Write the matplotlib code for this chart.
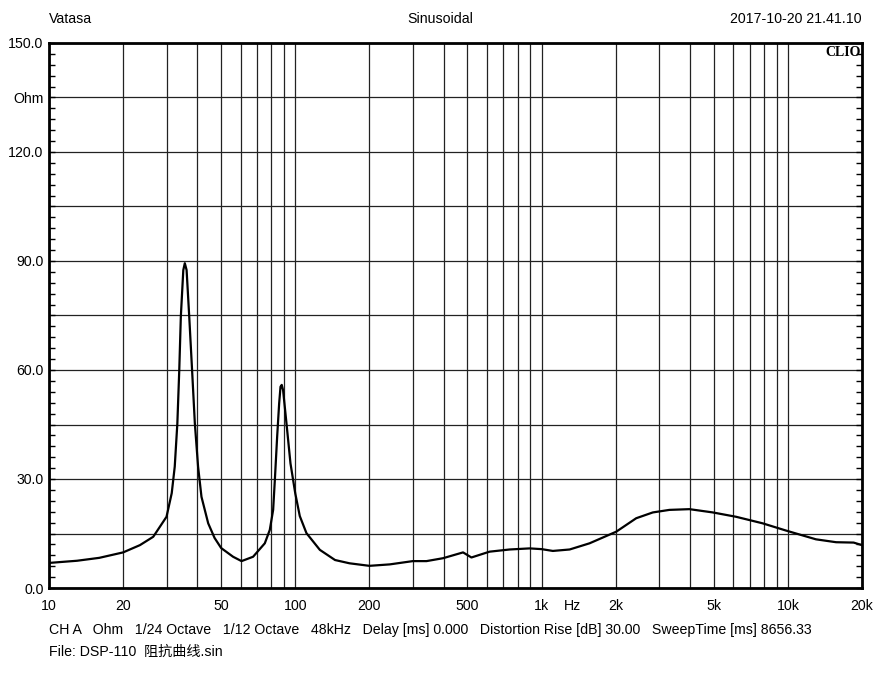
import numpy as np
import matplotlib
matplotlib.use("Agg")
import matplotlib.pyplot as plt
from matplotlib.ticker import FixedLocator, FuncFormatter, MultipleLocator

# impedance curve
freq = [10, 13, 16, 20, 23.4, 26.5, 30.0, 31.5, 32.4, 33.2, 33.8, 34.3, 35.1, 35.6,
        36.2, 37.1, 38.1, 39.1, 40.3, 41.6, 44.3, 47, 50, 55.9, 60.5, 67.4, 75.2, 78.8,
        81.3, 82.6, 84.4, 86.0, 87.1, 88.1, 89.2, 92.1, 95.6, 100, 104.3, 111,
        125.8, 145, 166, 200, 242, 300, 341, 398, 480, 519,
        615, 742, 894, 1000, 1111, 1300, 1566, 2010, 2422, 2830, 3305, 3985, 4955,
        6165, 7900, 9840, 13000, 15700, 18500, 20000]
ohm = [6.9, 7.5, 8.3, 9.8, 11.8, 14.1, 19.6, 26.1, 33.4, 45.3, 60.0, 74.7, 87.5, 89.4,
       87.5, 74.7, 60.0, 45.3, 33.4, 25.1, 17.8, 13.8, 11.0, 8.6, 7.4, 8.6, 12.3, 16.0,
       21.5, 29.7, 41.6, 50.8, 55.4, 55.9, 54.5, 45.3, 34.3, 26.0, 19.8, 15.1,
       10.5, 7.7, 6.8, 6.1, 6.5, 7.4, 7.4, 8.2, 9.8, 8.4,
       10.0, 10.6, 10.9, 10.7, 10.2, 10.6, 12.3, 15.5, 19.2, 20.8, 21.5, 21.7, 20.8,
       19.6, 17.8, 15.8, 13.4, 12.6, 12.5, 11.8]

xticks = [10, 20, 50, 100, 200, 500, 1000, 2000, 5000, 10000, 20000]
xlabels = ["10", "20", "50", "100", "200", "500", "1k", "2k", "5k", "10k", "20k"]

fonte = ["Liberation Sans", "Noto Sans CJK SC", "DejaVu Sans"]
plt.rcParams["font.family"] = fonte
plt.rcParams["font.size"] = 10.2

W, H = 895, 675
fig = plt.figure(figsize=(W / 100, H / 100), dpi=100)
ax = fig.add_axes([49 / W, 1 - 588 / H, (862 - 49) / W, (588 - 43) / H])

ax.set_xscale("log")
ax.set_xlim(10, 20000)
ax.set_ylim(0, 150)

# grade vertical em todos os multiplos 1..9
grade_x = [m * 10 ** d for d in range(1, 5) for m in range(1, 10) if m * 10 ** d <= 20000]
ax.xaxis.set_major_locator(FixedLocator(xticks))
ax.xaxis.set_minor_locator(FixedLocator(grade_x))
ax.set_xticklabels(xlabels)
ax.tick_params(axis="x", which="both", length=0, pad=8, labelsize=10.2)
ax.grid(True, axis="x", which="both", color="#222222", lw=0.9)

# eixo y: grade a cada 15, marcas a cada 3
ax.yaxis.set_major_locator(MultipleLocator(15))
ax.yaxis.set_minor_locator(MultipleLocator(3))


def rotulo_y(v, pos):
    if abs(v - 135) < 1e-6:
        return "Ohm"
    if int(round(v)) % 30 == 0:
        return "%.1f" % v
    return ""


ax.yaxis.set_major_formatter(FuncFormatter(rotulo_y))
ax.tick_params(axis="y", which="both", direction="in", length=4, width=1,
               left=True, right=True, pad=4, labelsize=10.2)
ax.grid(True, axis="y", which="major", color="#222222", lw=0.9)
ax.set_axisbelow(True)

for s in ax.spines.values():
    s.set_linewidth(2)
    s.set_color("black")

ax.plot(freq, ohm, color="black", lw=1.6)

# Hz entre 1k e 2k, na linha dos rotulos
ax.annotate("Hz", xy=(1340, 0), xycoords=("data", "axes fraction"),
            xytext=(0, -8), textcoords="offset points", ha="center", va="top",
            fontsize=10.2)

ax.text(0.999, 0.995, "CLIO", transform=ax.transAxes, ha="right", va="top",
        fontsize=10, fontweight="bold", family="Liberation Serif")

fig.text(49 / W, 1 - 19 / H, "Vatasa", ha="left", va="center")
fig.text(440 / W, 1 - 19 / H, "Sinusoidal", ha="center", va="center")
fig.text(862 / W, 1 - 19 / H, "2017-10-20 21.41.10", ha="right", va="center")

fig.text(49 / W, 1 - 630 / H,
         "CH A   Ohm   1/24 Octave   1/12 Octave   48kHz   Delay [ms] 0.000   "
         "Distortion Rise [dB] 30.00   SweepTime [ms] 8656.33",
         ha="left", va="center")
fig.text(49 / W, 1 - 652 / H, "File: DSP-110  阻抗曲线.sin", ha="left", va="center")

fig.savefig("out.png", dpi=100, facecolor="white")
